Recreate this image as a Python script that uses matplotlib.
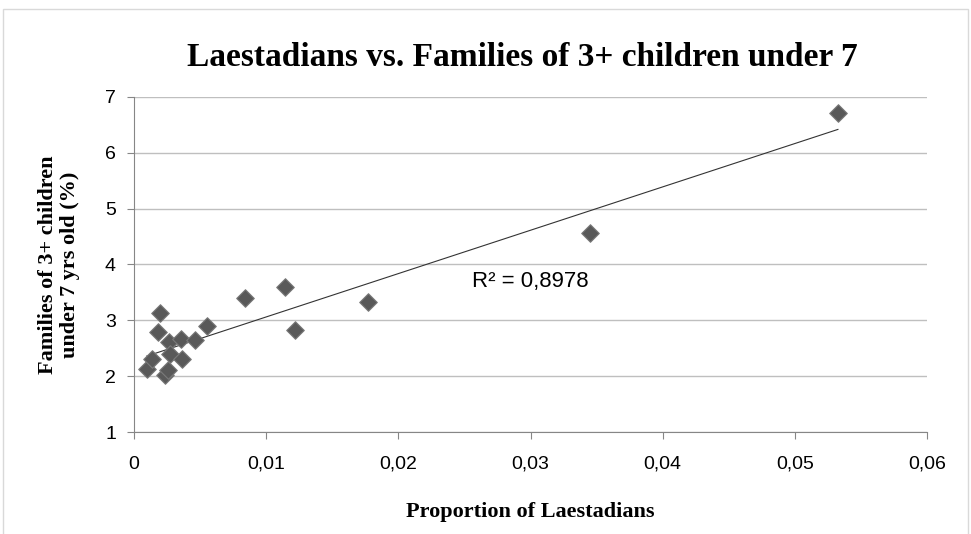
import numpy as np
import matplotlib
matplotlib.use("Agg")
import matplotlib.pyplot as plt
from matplotlib.ticker import FuncFormatter
from matplotlib.patches import Rectangle

# proportion of Laestadians vs. families with 3+ children under 7 (%)
laestadians = [0.00096, 0.00139, 0.0018, 0.00197, 0.00235, 0.0026, 0.00268, 0.00273,
               0.00357, 0.00364, 0.00465, 0.00556, 0.00842, 0.01143, 0.01219, 0.01768,
               0.0345, 0.05326]
families = [2.12, 2.30, 2.79, 3.13, 2.02, 2.11, 2.61, 2.40,
            2.67, 2.30, 2.65, 2.89, 3.40, 3.60, 2.83, 3.32,
            4.57, 6.71]

x = np.array(laestadians)
y = np.array(families)
slope, icpt = np.polyfit(x, y, 1)

plt.rcParams["font.family"] = ["Liberation Sans", "DejaVu Sans"]
fig = plt.figure(figsize=(9.71, 5.34), dpi=100)
ax = fig.add_axes([0.138, 0.191, 0.8167, 0.6274])

# light frame round the whole chart
fig.patches.append(Rectangle((0.003, -0.01), 0.994, 0.993, transform=fig.transFigure,
                             fill=False, edgecolor="#d9d9d9", lw=1))

ax.set_xlim(0, 0.06)
ax.set_ylim(1, 7)
ax.set_xticks(np.arange(0, 0.061, 0.01))
ax.set_yticks(range(1, 8))
ax.grid(axis="y", color="#bfbfbf", lw=1)
ax.set_axisbelow(True)

xs = np.array([x.min(), x.max()])
ax.plot(xs, slope * xs + icpt, color="#333333", lw=0.8)
ax.scatter(x, y, marker="D", s=80, color="#595959", edgecolors="#7a7a7a", linewidths=0.8, zorder=3)

ax.text(0.0256, 3.69, "R² = 0,8978", fontsize=16, va="center")

ax.xaxis.set_major_formatter(FuncFormatter(lambda v, p: "0" if v == 0 else f"{v:.2f}".replace(".", ",")))
for s in ["top", "right"]:
    ax.spines[s].set_visible(False)
for s in ["left", "bottom"]:
    ax.spines[s].set_color("#868686")
ax.tick_params(colors="#868686", labelcolor="black", labelsize=14, length=5)
ax.tick_params(axis="x", pad=12)
ax.tick_params(axis="y", pad=8)

ax.set_title("Laestadians vs. Families of 3+ children under 7", fontsize=24, fontweight="bold",
             family="Liberation Serif", pad=22, x=0.49)
ax.set_xlabel("Proportion of Laestadians", fontsize=16, fontweight="bold",
              family="Liberation Serif", labelpad=21)
ax.set_ylabel("Families of 3+ children\nunder 7 yrs old (%)", fontsize=16, fontweight="bold",
              family="Liberation Serif", labelpad=18, linespacing=1.1)

fig.savefig("out.png", dpi=100)
